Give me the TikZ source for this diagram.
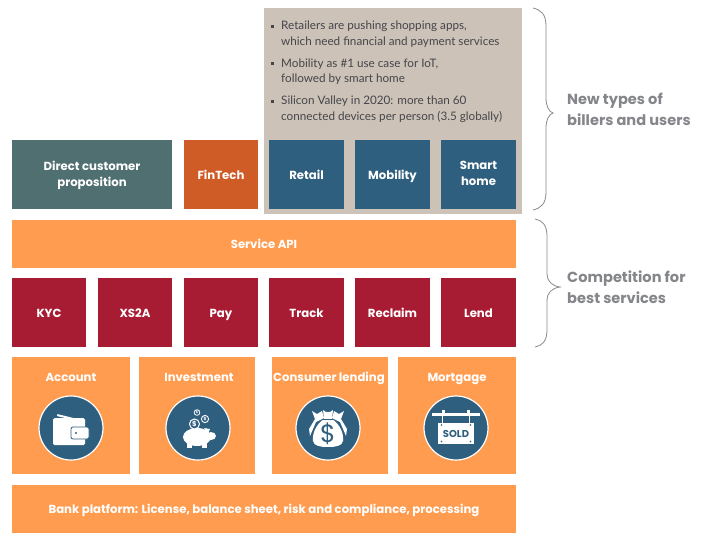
\documentclass[tikz,border=0pt]{standalone}
\usepackage{fontspec}
\setmainfont{Poppins}
\newfontfamily\bodyfont{Lato}
\definecolor{orng}{HTML}{FF9C4F}
\definecolor{teal1}{HTML}{2F5F7F}
\definecolor{slate}{HTML}{4F6F70}
\definecolor{rust}{HTML}{CF5B27}
\definecolor{crim}{HTML}{A81C33}
\definecolor{taupe}{HTML}{CCC2B8}
\definecolor{gtxt}{HTML}{85868A}
\definecolor{btxt}{HTML}{45454A}
\definecolor{brc}{HTML}{8A8A8E}
\tikzset{
 x=1pt,y=-1pt,
 box/.style={draw=none,text=white,font=\fontsize{11.7}{16}\selectfont\bfseries,align=center,inner sep=0pt,yshift=-1.5pt,execute at begin node={\strut},execute at end node={\strut}},
 icon/.style={circle,draw=white,line width=1.2pt,fill=teal1,minimum size=64pt,inner sep=0pt},
 brace/.style={draw=brc,line width=0.8pt},
 sidelabel/.style={text=gtxt,font=\fontsize{14.6}{21}\selectfont\bfseries,align=left,anchor=west,inner sep=0pt},
 bullet/.style={text=btxt,font=\bodyfont\fontsize{11.7}{15.5}\selectfont,align=left,anchor=north west,inner sep=0pt},
 dotb/.style={fill=btxt,inner sep=0pt,minimum size=3pt},
}
\newcommand{\rbox}[7]{\fill[#6] (#2,#3) rectangle (#4,#5); \node[box] (#1) at ({(#2+#4)/2},{(#3+#5)/2}) {#7};}
\begin{document}
\begin{tikzpicture}
\useasboundingbox (0,0) rectangle (702,538);
\fill[white] (0,0) rectangle (702,538);
\fill[taupe] (264,8) rectangle (522,214);
% bullets
\node[dotb] (b1) at (272,26) {};
\node[bullet] (t1) at (281,21) {Retailers are pushing shopping apps,\\which need financial and payment services};
\node[dotb] (b2) at (272,63) {};
\node[bullet] (t2) at (281,58.5) {Mobility as \#1 use case for IoT,\\followed by smart home};
\node[dotb] (b3) at (272,101) {};
\node[bullet] (t3) at (281,96) {Silicon Valley in 2020: more than 60\\connected devices per person (3.5 globally)};
% row 1
\rbox{direct}{12}{140}{172}{209}{slate}{Direct customer\\proposition}
\rbox{fintech}{184}{140}{258}{209}{rust}{FinTech}
\rbox{retail}{269}{140}{344}{209}{teal1}{Retail}
\rbox{mobility}{355}{140}{430}{209}{teal1}{Mobility}
\rbox{smart}{441}{140}{516}{209}{teal1}{Smart\\home}
% service
\rbox{api}{12}{220}{516}{268}{orng}{Service API}
% red row
\rbox{kyc}{12}{278}{86}{347}{crim}{KYC}
\rbox{xs}{98}{278}{172}{347}{crim}{XS2A}
\rbox{pay}{184}{278}{258}{347}{crim}{Pay}
\rbox{track}{269}{278}{344}{347}{crim}{Track}
\rbox{reclaim}{355}{278}{430}{347}{crim}{Reclaim}
\rbox{lend}{441}{278}{516}{347}{crim}{Lend}
% product row
\fill[orng] (12,357) rectangle (130,474);
\fill[orng] (139,357) rectangle (255,474);
\fill[orng] (272,357) rectangle (388,474);
\fill[orng] (398,357) rectangle (516,474);
\node[box] (account) at (71,377) {Account};
\node[box] (invest) at (199,377) {Investment};
\node[box] (consumer) at (329,377) {Consumer lending};
\node[box] (mortgage) at (457,377) {Mortgage};
% wallet
\node[icon] (c1) at (71,428) {};
\begin{scope}[shift={(71,428)}]
\fill[white,rotate around={-14:(-14,-12)}] (-14,-14) rectangle (10,-12);
\fill[white,rounded corners=1.5pt] (-18,-10) rectangle (14,17);
\fill[white,rounded corners=2pt,draw=teal1,line width=0.8pt] (0,-1) rectangle (18,11);
\fill[teal1] (5,5) circle (1.2);
\end{scope}
% piggy
\node[icon] (c2) at (198,428) {};
\begin{scope}[shift={(198,428)}]
\fill[white] (-1,9) ellipse (14 and 9);
\fill[white] (13,8) ellipse (5 and 4);
\fill[white] (-11,14) rectangle (-6,20);
\fill[white] (4,14) rectangle (9,20);
\fill[white] (6,0) -- (12,1) -- (10,6) -- cycle;
\draw[white,fill=teal1,line width=1pt] (-3.5,-4) circle (5);
\node[text=white,font=\fontsize{7}{7}\selectfont\bfseries,inner sep=0pt] (d1) at (-3.5,-4) {\$};
\draw[white,line width=0.9pt] (7,-9) circle (3.6);
\node[text=white,font=\fontsize{4.5}{5}\selectfont\bfseries,inner sep=0pt] (d2) at (7,-9) {\$};
\draw[white,line width=0.8pt] (-1,-15.5) circle (2.8);
\node[text=white,font=\fontsize{3.5}{4}\selectfont\bfseries,inner sep=0pt] (d3) at (-1,-15.5) {\$};
\end{scope}
% money bag
\node[icon] (c3) at (328,428) {};
\begin{scope}[shift={(328,428)}]
\fill[white] (-16,-17) -- (-11,-14) -- (-6,-17) -- (-4,-10) -- (-12,-6) -- (-18,8) -- (-19,1) -- (-13,-9) -- cycle;
\fill[white] (16,-17) -- (11,-14) -- (6,-17) -- (4,-10) -- (12,-6) -- (18,8) -- (19,1) -- (13,-9) -- cycle;
\fill[white] (-5,-18) .. controls (-2,-15) and (2,-15) .. (5,-18) -- (4,-9) .. controls (12,-4) and (16,6) .. (15,13) .. controls (14,18) and (8,19) .. (0,19) .. controls (-8,19) and (-14,18) .. (-15,13) .. controls (-16,6) and (-12,-4) .. (-4,-9) -- cycle;
\draw[teal1,line width=0.8pt] (-5,-9) -- (5,-9);
\node[text=teal1,font=\fontsize{25}{25}\selectfont,inner sep=0pt] (d4) at (0,6) {\$};
\end{scope}
% sold sign
\node[icon] (c4) at (456,428) {};
\begin{scope}[shift={(456,428)}]
\fill[white] (-24,-15) rectangle (24,-12);
\fill[white] (-14,-18) rectangle (-11,-12);
\fill[white] (11,-18) rectangle (14,-12);
\fill[white] (-14,-12) rectangle (-12.8,-5);
\fill[white] (12.8,-12) rectangle (14,-5);
\fill[white] (-18,-5) rectangle (18,16);
\node[text=teal1,font=\fontsize{10}{10}\selectfont\bfseries,inner sep=0pt] (sold) at (0,5.5) {SOLD};
\fill[teal1] (-14.5,-3) circle (0.9) (14.5,-3) circle (0.9) (-14.5,13.5) circle (0.9) (14.5,13.5) circle (0.9);
\end{scope}
% bank
\rbox{bank}{12}{485}{516}{533}{orng}{Bank platform: License, balance sheet, risk and compliance, processing}
% braces
\coordinate (ba) at (533,8);
\coordinate (bb) at (553,113);
\coordinate (bc) at (533,210);
\draw[brace] (ba) .. controls (541,10) and (546,14) .. (546,26) -- (546,98) .. controls (546,106) and (549,112) .. (bb) .. controls (549,114) and (546,120) .. (546,128) -- (546,192) .. controls (546,204) and (541,208) .. (bc);
\coordinate (ca) at (535,219);
\coordinate (cb) at (560,287);
\coordinate (cc) at (535,347);
\draw[brace] (ca) .. controls (542,220) and (547,225) .. (547,236) -- (547,274) .. controls (547,281) and (552,286) .. (cb) .. controls (552,288) and (547,293) .. (547,300) -- (547,330) .. controls (547,341) and (542,346) .. (cc);
\node[sidelabel] (l1) at (567,109) {New types of\\billers and users};
\node[sidelabel] (l2) at (567,287) {Competition for\\best services};
\end{tikzpicture}
\end{document}
